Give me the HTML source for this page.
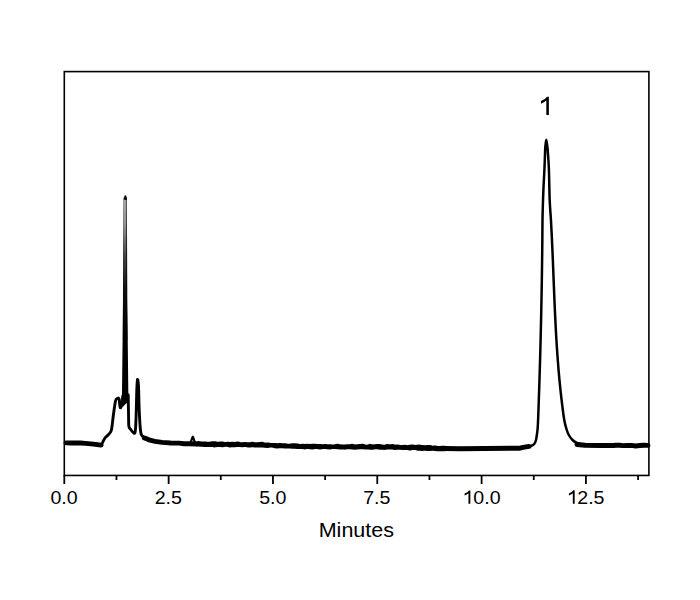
<!DOCTYPE html>
<html><head><meta charset="utf-8"><style>
html,body{margin:0;padding:0;background:#fff;width:700px;height:600px;overflow:hidden}
svg{display:block}
text{font-family:"Liberation Sans",sans-serif;fill:#000}
</style></head><body>
<svg width="700" height="600" viewBox="0 0 700 600">
<defs><linearGradient id="sg" x1="0" y1="196" x2="0" y2="340" gradientUnits="userSpaceOnUse">
<stop offset="0" stop-color="#c2c2c2"/><stop offset="0.2" stop-color="#a0a0a0"/><stop offset="0.41" stop-color="#484848"/><stop offset="0.65" stop-color="#111"/><stop offset="1" stop-color="#000"/></linearGradient></defs>
<path d="M123.50,196.50 L126.60,196.50 L127.00,230.00 L127.10,300.00 L127.60,330.00 L128.30,390.00 L128.60,402.00 L125.50,404.00 L122.80,407.00 L121.90,402.00 L122.70,330.00 L123.00,300.00 L123.20,230.00Z" fill="url(#sg)"/>
<path d="M126.3,198 L127,340" stroke="#000" stroke-opacity="0.65" stroke-width="1.1"/>
<path d="M123.8,198 L123.3,340" stroke="#000" stroke-opacity="0.4" stroke-width="1"/>
<polygon points="123.6,199.5 124.8,195.2 126,195.6 126.8,198 126.8,200" fill="#000"/>
<path d="M101.10,445.10 C101.38,444.60 102.20,443.20 102.80,442.10 C103.40,441.00 104.08,439.43 104.70,438.50 C105.32,437.57 105.73,437.30 106.50,436.50 C107.27,435.70 108.47,434.87 109.30,433.70 C110.13,432.53 110.80,432.78 111.50,429.50 C112.20,426.22 112.83,418.75 113.50,414.00 C114.17,409.25 114.95,403.53 115.50,401.00 C116.05,398.47 116.22,399.17 116.80,398.80 C117.38,398.43 118.43,397.35 119.00,398.80 C119.57,400.25 119.73,406.55 120.20,407.50 C120.67,408.45 121.37,406.42 121.80,404.50 C122.23,402.58 122.63,397.42 122.80,396.00 M128.20,395.00 C128.27,398.83 128.48,412.75 128.60,418.00 C128.72,423.25 128.55,424.58 128.90,426.50 C129.25,428.42 129.97,428.50 130.70,429.50 C131.43,430.50 132.62,431.92 133.30,432.50 C133.98,433.08 134.42,433.75 134.80,433.00 C135.18,432.25 135.35,431.83 135.60,428.00 C135.85,424.17 136.10,416.33 136.30,410.00 C136.50,403.67 136.60,395.08 136.80,390.00 C137.00,384.92 137.22,380.17 137.50,379.50 C137.78,378.83 138.27,382.58 138.50,386.00 C138.73,389.42 138.77,395.67 138.90,400.00 C139.03,404.33 139.10,407.67 139.30,412.00 C139.50,416.33 139.77,422.25 140.10,426.00 C140.43,429.75 140.60,432.58 141.30,434.50 C142.00,436.42 143.35,436.75 144.30,437.50 C145.25,438.25 146.05,438.62 147.00,439.00 C147.95,439.38 148.67,439.42 150.00,439.80 C151.33,440.18 154.17,441.05 155.00,441.30" fill="none" stroke="#000" stroke-width="2.9" stroke-linejoin="round" stroke-linecap="round"/>
<path d="M520.00,447.90 C521.00,447.83 524.17,447.82 526.00,447.50 C527.83,447.18 529.63,446.58 531.00,446.00 C532.37,445.42 533.37,445.00 534.20,444.00 C535.03,443.00 535.45,442.33 536.00,440.00 C536.55,437.67 537.15,433.33 537.50,430.00 C537.85,426.67 537.87,425.00 538.09,420.00 C538.31,415.00 538.58,406.67 538.81,400.00 C539.04,393.33 539.26,386.67 539.47,380.00 C539.68,373.33 539.88,366.67 540.07,360.00 C540.26,353.33 540.43,346.67 540.60,340.00 C540.77,333.33 540.92,326.67 541.07,320.00 C541.22,313.33 541.35,306.67 541.48,300.00 C541.61,293.33 541.73,286.67 541.83,280.00 C541.94,273.33 542.02,266.67 542.11,260.00 C542.20,253.33 542.26,247.50 542.34,240.00 C542.42,232.50 542.42,223.33 542.60,215.00 C542.78,206.67 543.12,197.17 543.40,190.00 C543.68,182.83 544.07,177.00 544.30,172.00 C544.53,167.00 544.63,164.17 544.80,160.00 C544.97,155.83 545.05,150.38 545.30,147.00 C545.55,143.62 545.95,139.70 546.30,139.70 C546.65,139.70 547.05,143.62 547.40,147.00 C547.75,150.38 548.13,155.83 548.40,160.00 C548.67,164.17 548.79,165.33 549.00,172.00 C549.21,178.67 549.36,192.00 549.68,200.00 C550.00,208.00 550.56,213.33 550.94,220.00 C551.32,226.67 551.65,233.33 551.97,240.00 C552.29,246.67 552.56,253.33 552.84,260.00 C553.12,266.67 553.36,273.33 553.63,280.00 C553.90,286.67 554.16,293.33 554.44,300.00 C554.73,306.67 555.01,313.33 555.34,320.00 C555.67,326.67 556.01,333.33 556.42,340.00 C556.82,346.67 557.26,353.33 557.77,360.00 C558.28,366.67 558.83,373.33 559.47,380.00 C560.11,386.67 560.80,393.33 561.60,400.00 C562.40,406.67 563.38,415.00 564.25,420.00 C565.12,425.00 566.04,427.50 566.80,430.00 C567.56,432.50 567.85,433.33 568.80,435.00 C569.75,436.67 571.13,438.67 572.50,440.00 C573.87,441.33 574.92,442.17 577.00,443.00 C579.08,443.83 583.67,444.67 585.00,445.00" fill="none" stroke="#000" stroke-width="2.5" stroke-linejoin="round" stroke-linecap="round"/>
<path d="M66.00,442.87 L70.50,442.95 L75.00,442.94 L80.35,442.94 L85.70,443.35 L93.40,444.07 L101.10,445.10 M144.30,437.99 L147.00,438.93 L150.00,440.24 L155.00,441.42 L162.00,442.35 L166.25,442.66 L170.50,442.99 L174.75,443.12 L179.00,443.11 L184.00,443.75 L189.00,443.80 M189.00,443.80 L197.00,444.00 M445.00,448.50 L460.00,448.70 L520.00,448.20 L523.00,447.40 L529.00,446.40 M577.00,444.50 L585.00,445.30 L600.80,445.50 L615.00,445.50 M615.00,445.11 L619.12,445.25 L623.25,445.67 L627.38,445.49 L631.50,445.35 L635.62,445.96 L639.75,445.56 L643.88,445.22 L648.00,445.40" fill="none" stroke="#000" stroke-width="4.9" stroke-linejoin="round" stroke-linecap="round"/>
<path d="M198.00,442.86 L201.50,443.29 L205.00,443.28 L207.50,443.50 L210.00,443.53 L212.50,443.04 L215.00,443.00 L217.50,443.75 L220.00,443.24 L222.50,443.23 L225.00,443.93 L227.50,443.46 L230.00,443.80 L232.50,443.51 L235.00,443.69 L237.50,443.29 L240.00,443.75 L242.50,444.00 L245.00,443.72 L247.50,443.95 L250.00,443.92 L252.50,443.41 L255.00,444.07 L257.50,443.95 L260.00,443.72 L262.50,443.58 L265.00,444.43 L267.50,444.18 L270.00,444.50 L272.50,444.74 L275.00,444.69 L277.50,444.98 L280.00,444.61 L282.50,445.08 L285.00,444.88 L287.50,445.43 L290.00,445.49 L292.50,444.90 L295.00,445.05 L297.50,445.23 L300.00,446.02 L302.50,445.55 L305.00,445.73 L307.50,445.45 L310.00,445.64 L312.50,445.54 L315.00,445.52 L317.50,445.73 L320.00,445.74 L322.50,446.04 L325.00,445.85 L327.50,446.08 L330.00,446.02 L332.50,446.16 L335.00,445.89 L337.50,445.45 L340.00,446.09 L342.50,446.20 L345.00,446.16 L347.50,445.88 L350.00,446.03 L352.50,445.59 L355.00,446.17 L357.50,445.95 L360.00,445.71 L362.50,445.52 L365.00,446.25 L367.50,446.39 L370.00,445.60 L372.50,446.25 L375.00,445.92 L377.50,445.70 L380.00,445.85 L382.50,446.29 L385.00,446.40 L387.50,445.67 L390.00,446.20 L392.50,445.75 L395.00,446.42 L397.50,446.13 L400.00,446.68 L402.50,446.83 L405.00,446.46 L407.50,446.97 L410.00,446.41 L412.50,446.26 L415.00,446.79 L417.50,446.35 L420.00,446.58 L422.50,446.84 L425.00,447.10 L427.50,446.77 L430.00,446.74 L432.50,447.56 L435.00,447.13 L437.50,447.79 L440.00,447.81 L442.50,447.42 L445.00,447.60 M198.00,444.86 L201.50,445.07 L205.00,445.33 L207.50,445.30 L210.00,445.27 L212.50,445.34 L215.00,445.64 L217.50,445.26 L220.00,445.20 L222.50,445.47 L225.00,445.04 L227.50,445.11 L230.00,445.73 L232.50,445.35 L235.00,445.41 L237.50,444.96 L240.00,445.36 L242.50,445.54 L245.00,445.07 L247.50,445.64 L250.00,445.69 L252.50,445.20 L255.00,445.75 L257.50,445.64 L260.00,445.86 L262.50,445.67 L265.00,446.09 L267.50,446.21 L270.00,445.67 L272.50,445.80 L275.00,446.46 L277.50,446.82 L280.00,446.28 L282.50,446.57 L285.00,446.81 L287.50,446.68 L290.00,446.83 L292.50,446.89 L295.00,447.06 L297.50,447.37 L300.00,447.22 L302.50,447.30 L305.00,447.66 L307.50,447.00 L310.00,447.50 L312.50,447.65 L315.00,447.28 L317.50,447.21 L320.00,447.74 L322.50,447.24 L325.00,447.20 L327.50,447.43 L330.00,447.68 L332.50,447.16 L335.00,447.37 L337.50,447.40 L340.00,447.87 L342.50,447.53 L345.00,447.92 L347.50,447.32 L350.00,447.49 L352.50,447.79 L355.00,448.01 L357.50,447.64 L360.00,447.45 L362.50,447.38 L365.00,447.76 L367.50,447.47 L370.00,448.04 L372.50,448.09 L375.00,447.52 L377.50,447.62 L380.00,448.11 L382.50,447.98 L385.00,448.14 L387.50,447.74 L390.00,447.57 L392.50,447.77 L395.00,448.28 L397.50,447.87 L400.00,448.00 L402.50,448.13 L405.00,448.19 L407.50,448.24 L410.00,448.76 L412.50,448.13 L415.00,448.05 L417.50,448.97 L420.00,448.99 L422.50,449.16 L425.00,448.74 L427.50,449.28 L430.00,449.33 L432.50,448.77 L435.00,449.32 L437.50,449.48 L440.00,449.40 L442.50,449.34 L445.00,449.40" fill="none" stroke="#000" stroke-width="3.5" stroke-linejoin="round" stroke-linecap="round"/>
<path d="M189.00,443.80 C189.37,443.33 190.57,442.20 191.20,441.00 C191.83,439.80 192.23,436.52 192.80,436.60 C193.37,436.68 193.90,440.27 194.60,441.50 C195.30,442.73 196.60,443.58 197.00,444.00" fill="none" stroke="#000" stroke-width="2.2" stroke-linejoin="round"/>
<rect x="64.3" y="71.6" width="584.6" height="403.85" fill="none" stroke="#000" stroke-width="1.6"/>
<g stroke="#000" stroke-width="1.8"><line x1="64.30" y1="475" x2="64.30" y2="484"/><line x1="116.46" y1="475" x2="116.46" y2="480"/><line x1="168.62" y1="475" x2="168.62" y2="484"/><line x1="220.79" y1="475" x2="220.79" y2="480"/><line x1="272.95" y1="475" x2="272.95" y2="484"/><line x1="325.11" y1="475" x2="325.11" y2="480"/><line x1="377.27" y1="475" x2="377.27" y2="484"/><line x1="429.44" y1="475" x2="429.44" y2="480"/><line x1="481.60" y1="475" x2="481.60" y2="484"/><line x1="533.76" y1="475" x2="533.76" y2="480"/><line x1="585.92" y1="475" x2="585.92" y2="484"/><line x1="638.09" y1="475" x2="638.09" y2="480"/></g>
<g font-size="18.6"><text x="0" y="503.6" transform="translate(50.47 0) scale(1.054 1)">0.0</text><text x="0" y="503.6" transform="translate(154.65 0) scale(1.054 1)">2.5</text><text x="0" y="503.6" transform="translate(259.17 0) scale(1.054 1)">5.0</text><text x="0" y="503.6" transform="translate(363.23 0) scale(1.054 1)">7.5</text><text x="0" y="503.6" transform="translate(473.32 0) scale(1.054 1)">0.0</text><text x="0" y="503.6" transform="translate(577.25 0) scale(1.054 1)">2.5</text></g>
<g fill="#000"><path transform="translate(464.6 490.4) scale(13.3)" d="M0.292,1 L0.432,1 L0.432,0 L0.335,0 Q0.24,0.13 0,0.24 L0,0.385 Q0.17,0.32 0.292,0.215 Z"/><path transform="translate(568.9 490.3) scale(13.4)" d="M0.292,1 L0.432,1 L0.432,0 L0.335,0 Q0.24,0.13 0,0.24 L0,0.385 Q0.17,0.32 0.292,0.215 Z"/><path transform="translate(541 96.7) scale(18.2)" d="M0.292,1 L0.432,1 L0.432,0 L0.335,0 Q0.24,0.13 0,0.24 L0,0.385 Q0.17,0.32 0.292,0.215 Z"/></g>
<text x="0" y="536.8" font-size="20" text-anchor="middle" transform="translate(356.35 0) scale(1.077 1)">Minutes</text>

</svg>
</body></html>
